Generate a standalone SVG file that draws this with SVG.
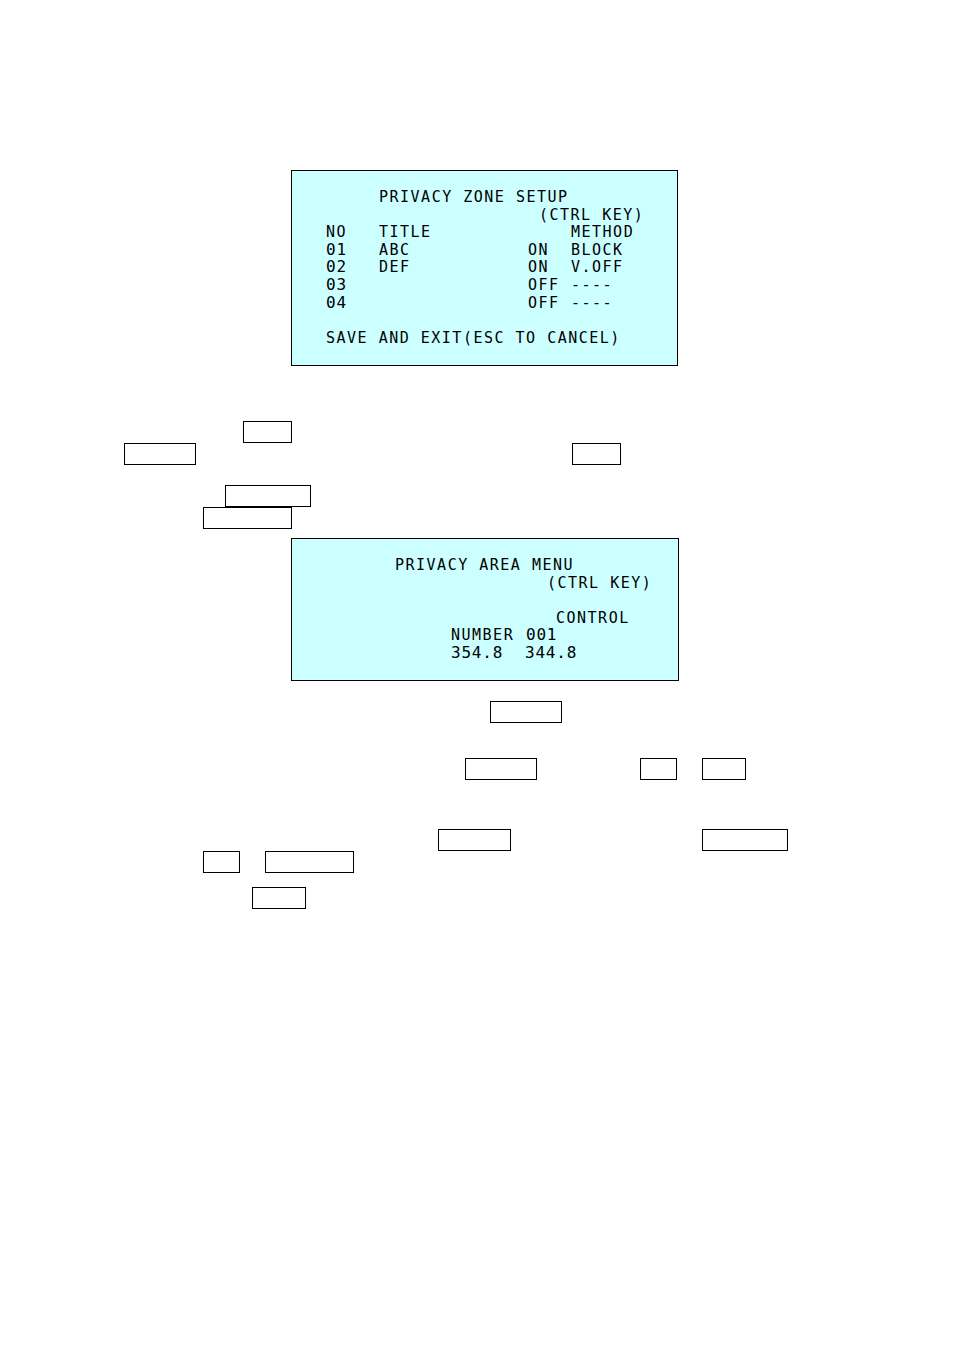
<svg xmlns="http://www.w3.org/2000/svg" width="954" height="1351" viewBox="0 0 954 1351">
<style>
.scr{fill:#ccffff;stroke:#000;stroke-width:1}
.k{fill:#fff;stroke:#000;stroke-width:1}
text{font-family:"DejaVu Sans Mono","Liberation Mono",monospace;font-size:15px;fill:#000;letter-spacing:1.5px}
.n{font-size:16px;letter-spacing:0.8px}
</style>
<rect width="954" height="1351" fill="#fff"/>
<g id="zone-setup">
<rect class="scr" x="291.5" y="170.5" width="386" height="195"/>
<text x="379" y="202">PRIVACY ZONE SETUP</text>
<text x="539" y="220">(CTRL KEY)</text>
<text x="326" y="237">NO</text><text x="379" y="237">TITLE</text><text x="571" y="237">METHOD</text>
<text class="n" x="326" y="255">01</text><text x="379" y="255">ABC</text><text x="528" y="255">ON</text><text x="571" y="255">BLOCK</text>
<text class="n" x="326" y="272">02</text><text x="379" y="272">DEF</text><text x="528" y="272">ON</text><text x="571" y="272">V.OFF</text>
<text class="n" x="326" y="290">03</text><text x="528" y="290">OFF</text><text x="571" y="290">----</text>
<text class="n" x="326" y="308">04</text><text x="528" y="308">OFF</text><text x="571" y="308">----</text>
<text x="326" y="343">SAVE AND EXIT(ESC TO CANCEL)</text>
</g>
<g id="area-menu">
<rect class="scr" x="291.5" y="538.5" width="387" height="142"/>
<text x="395" y="570">PRIVACY AREA MENU</text>
<text x="547" y="588">(CTRL KEY)</text>
<text x="556" y="623">CONTROL</text>
<text x="451" y="640">NUMBER</text><text class="n" x="526" y="640">001</text>
<text class="n" x="451" y="658">354.8</text><text class="n" x="525" y="658">344.8</text>
</g>
<g id="keys">
<rect class="k" x="243.5" y="421.5" width="48" height="21"/>
<rect class="k" x="124.5" y="443.5" width="71" height="21"/>
<rect class="k" x="572.5" y="443.5" width="48" height="21"/>
<rect class="k" x="225.5" y="485.5" width="85" height="21"/>
<rect class="k" x="203.5" y="507.5" width="88" height="21"/>
<rect class="k" x="490.5" y="701.5" width="71" height="21"/>
<rect class="k" x="465.5" y="758.5" width="71" height="21"/>
<rect class="k" x="640.5" y="758.5" width="36" height="21"/>
<rect class="k" x="702.5" y="758.5" width="43" height="21"/>
<rect class="k" x="438.5" y="829.5" width="72" height="21"/>
<rect class="k" x="702.5" y="829.5" width="85" height="21"/>
<rect class="k" x="203.5" y="851.5" width="36" height="21"/>
<rect class="k" x="265.5" y="851.5" width="88" height="21"/>
<rect class="k" x="252.5" y="887.5" width="53" height="21"/>
</g>
<g id="connectors"/>
</svg>
